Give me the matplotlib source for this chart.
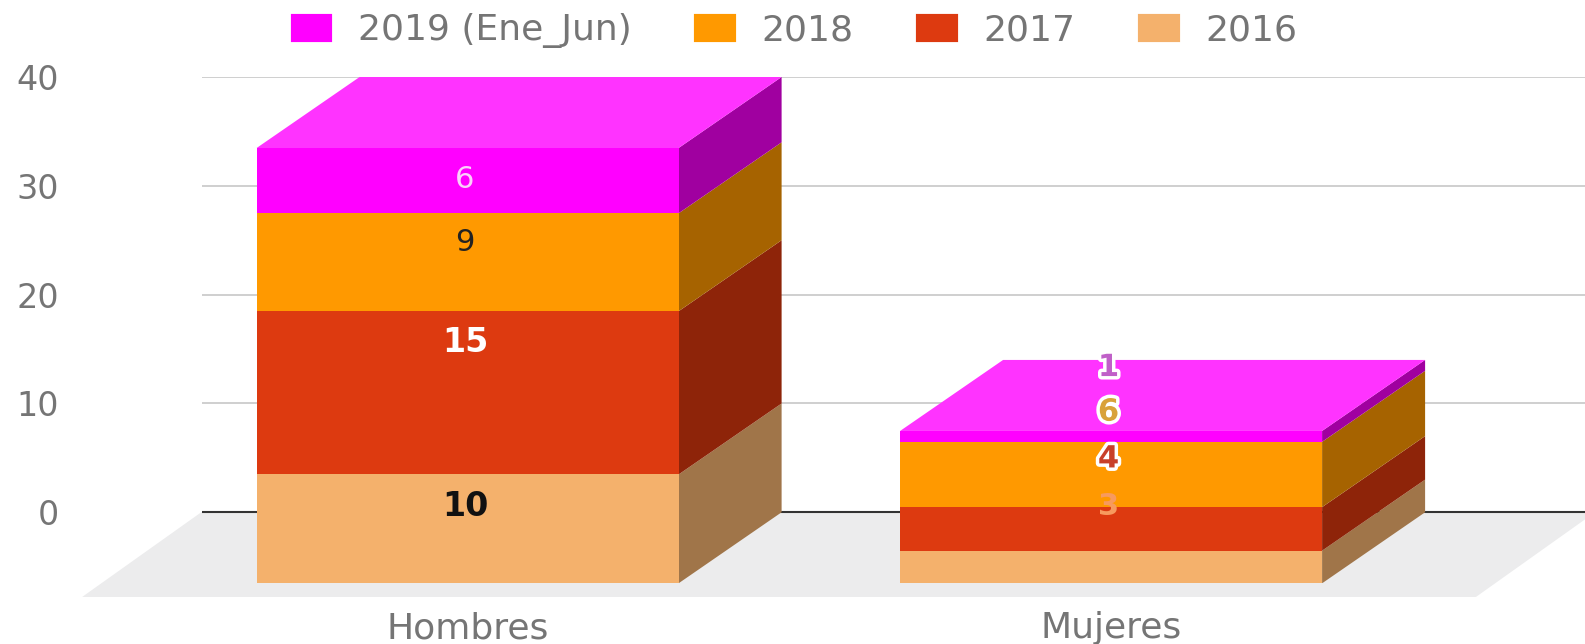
import matplotlib
matplotlib.use("Agg")
import matplotlib.pyplot as plt
import matplotlib.patheffects as pe
from matplotlib.patches import Polygon, Patch

categories = ["Hombres", "Mujeres"]
series_names = ["2016", "2017", "2018", "2019 (Ene_Jun)"]
v2016 = [10, 3]
v2017 = [15, 4]
v2018 = [9, 6]
v2019 = [6, 1]
yticks = [0, 10, 20, 30, 40]

front = ["#f4b16c", "#dd3a10", "#ff9900", "#ff00ff"]
side = ["#a07549", "#8e2409", "#a66300", "#a000a0"]
top_col = "#ff33ff"
grey = "#757575"

W, H = 1585, 644
fig = plt.figure(figsize=(W / 100, H / 100), dpi=100)
L, R, T, B = 202, 1585, 77, 583.3
ax = fig.add_axes([L / W, 1 - B / H, (R - L) / W, (B - T) / H])
unit_x = 643.5
unit_y = 10.88
x0 = 467.6
ax.set_xlim((L - x0) / unit_x, (R - x0) / unit_x)
depth_y = 71 / unit_y
depth_x = 103 / unit_x
ax.set_ylim(-depth_y, 40)
bar_w = 422 / unit_x

for s in ax.spines.values():
    s.set_visible(False)
ax.set_xticks(range(len(categories)), categories)
ax.set_yticks(yticks)
ax.tick_params(axis="y", length=0, pad=103, labelsize=24, labelcolor=grey)
ax.tick_params(axis="x", length=0, pad=20, labelsize=26, labelcolor=grey)
ax.set_axisbelow(True)
ax.grid(axis="y", color="#cccccc", lw=1.3, zorder=0)
ax.axhline(0, color="#333333", lw=1.5, zorder=1.5)

# floor
fy = -7.78
ax.add_patch(Polygon([(-0.599, fy), (1.567, fy), (1.752, 0), (-0.414, 0)],
                     closed=True, fc="#ececed", ec="none", zorder=1, clip_on=False))

series = [v2016, v2017, v2018, v2019]
bottoms = [0.0, 0.0]
for i, (vals, name) in enumerate(zip(series, series_names)):
    for j in range(len(categories)):
        b = bottoms[j] - depth_y
        t = b + vals[j]
        xr = j + bar_w / 2
        ax.add_patch(Polygon([(xr, b), (xr + depth_x, b + depth_y),
                              (xr + depth_x, t + depth_y), (xr, t)],
                             closed=True, fc=side[i], ec="none", zorder=3))
    ax.bar(range(len(categories)), vals, bar_w,
           bottom=[b_ - depth_y for b_ in bottoms],
           color=front[i], label=name, zorder=4, linewidth=0)
    bottoms = [b_ + v for b_, v in zip(bottoms, vals)]

for j, tot in enumerate(bottoms):
    t = tot - depth_y
    xl, xr = j - bar_w / 2, j + bar_w / 2
    ax.add_patch(Polygon([(xl, t), (xr, t), (xr + depth_x, t + depth_y), (xl + depth_x, t + depth_y)],
                         closed=True, fc=top_col, ec="none", zorder=3.5, clip_on=False))

# data labels: height above the back plane, colour, weight, outline
label_heights = {
    (0, 0): 0.5, (0, 1): 15.6, (0, 2): 24.8, (0, 3): 30.6,
    (1, 0): 0.5, (1, 1): 4.9, (1, 2): 9.2, (1, 3): 13.3,
}
label_style = {
    (0, 0): ("#111111", "bold", False, 24), (0, 1): ("white", "bold", False, 24),
    (0, 2): ("#222222", "normal", False, 22), (0, 3): ("#fbd0fb", "normal", False, 22),
    (1, 0): ("#f79a5e", "bold", False, 22), (1, 1): ("#c8402a", "bold", True, 22),
    (1, 2): ("#d9a23a", "bold", True, 22), (1, 3): ("#c060c8", "bold", True, 22),
}
for (j, i), h in label_heights.items():
    c, w, outlined, fs = label_style[(j, i)]
    txt = ax.text(j - 0.004, h, str(series[i][j]), ha="center", va="center",
                  fontsize=fs, color=c, fontweight=w, zorder=6)
    if outlined:
        txt.set_path_effects([pe.withStroke(linewidth=5, foreground="white")])

handles = [Patch(fc=front[i], ec=front[i], lw=3, joinstyle="round") for i in [3, 2, 1, 0]]
labels = [series_names[i] for i in [3, 2, 1, 0]]
fig.legend(handles, labels, loc="center", bbox_to_anchor=(795 / W, 1 - 31 / H), ncol=4,
           frameon=False, fontsize=26, labelcolor=grey, handlelength=1.05,
           handleheight=0.63, handletextpad=0.75, columnspacing=1.8)

fig.savefig("out.png", dpi=100)
